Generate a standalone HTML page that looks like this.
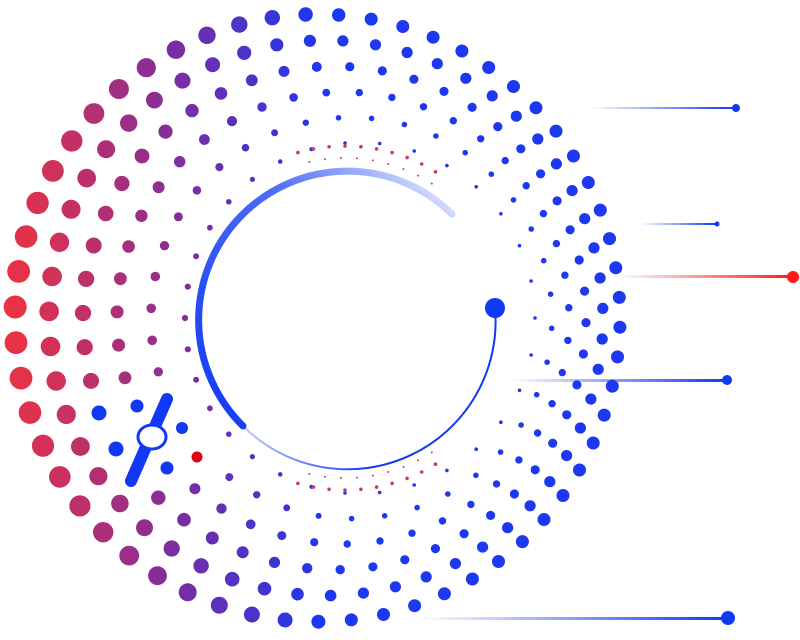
<!DOCTYPE html>
<html><head><meta charset="utf-8"><style>
html,body{margin:0;padding:0;background:#fff;width:800px;height:640px;overflow:hidden}
svg{display:block}
</style></head><body>
<svg id="s" width="800" height="640" viewBox="0 0 800 640" xmlns="http://www.w3.org/2000/svg">
<defs>
<linearGradient id="gA" x1="0" y1="1" x2="1" y2="0"><stop offset="0" stop-color="#1038f5"/><stop offset="0.6" stop-color="#4a6cf7"/><stop offset="1" stop-color="#1038f5" stop-opacity="0"/></linearGradient>
<linearGradient id="gB" x1="0" y1="0" x2="1" y2="0"><stop offset="0" stop-color="#1038f5" stop-opacity="0.25"/><stop offset="0.5" stop-color="#1038f5"/><stop offset="1" stop-color="#1038f5"/></linearGradient>
<linearGradient id="lb" x1="0" y1="0" x2="1" y2="0"><stop offset="0" stop-color="#1038f5" stop-opacity="0"/><stop offset="1" stop-color="#1038f5"/></linearGradient>
<linearGradient id="lr" x1="0" y1="0" x2="1" y2="0"><stop offset="0" stop-color="#ff2020" stop-opacity="0"/><stop offset="1" stop-color="#ff1a1a"/></linearGradient>
</defs>
<g id="dots"></g>
<path d="M243 426 A148 148 0 1 1 452 214" fill="none" stroke="url(#gA)" stroke-width="7" stroke-linecap="round"/>
<path d="M243 426 A148 148 0 0 0 495 308" fill="none" stroke="url(#gB)" stroke-width="2"/>
<circle cx="495" cy="308" r="10" fill="#1038f5"/>
<rect x="590" y="107" width="146" height="2" fill="url(#lb)"/><circle cx="736" cy="108" r="4" fill="#1038f5"/>
<rect x="640" y="223" width="77" height="2" fill="url(#lb)"/><circle cx="717" cy="224" r="2.5" fill="#1038f5"/>
<rect x="615" y="275" width="178" height="3" fill="url(#lr)"/><circle cx="793" cy="277" r="6" fill="#ff1a1a"/>
<rect x="510" y="379" width="217" height="3" fill="url(#lb)"/><circle cx="727" cy="380" r="5" fill="#1038f5"/>
<rect x="420" y="617" width="308" height="3" fill="url(#lb)"/><circle cx="728" cy="618" r="7" fill="#1038f5"/>
<line x1="131" y1="481" x2="167" y2="399" stroke="#1038f5" stroke-width="12" stroke-linecap="round"/>
<ellipse cx="152" cy="437" rx="14" ry="12" fill="#fff" stroke="#1038f5" stroke-width="3"/>
<circle cx="99" cy="413" r="7.5" fill="#1038f5"/>
<circle cx="137" cy="406" r="6.5" fill="#1038f5"/>
<circle cx="116" cy="449" r="7.5" fill="#1038f5"/>
<circle cx="182" cy="428" r="6" fill="#1038f5"/>
<circle cx="167" cy="468" r="6.5" fill="#1038f5"/>
<circle cx="197" cy="457" r="5.5" fill="#e00010"/>
</svg>
<script>
(function(){
var g=document.getElementById('dots'),cx=345,cy=318,h='';
function mix(a,b,t){return a.map(function(v,i){return Math.round(v+(b[i]-v)*t)})}
var R=[232,50,70],P=[125,45,160],B=[30,55,240];
for(var k=0;k<6;k++){
  var base=175+k*28, n=Math.round(2*Math.PI*base/34);
  for(var i=0;i<n;i++){
    var th=i/n*2*Math.PI+k*0.05, c=Math.cos(th), s=Math.sin(th);
    var sp=25.5-8.5*c, r=175+15*c+k*sp;
    var x=cx+r*c, y=cy+r*s;
    if(x>795||y<-5||y>645) continue;
    if(Math.hypot(x-150,y-437)<60) continue;
    var rad=(1.8+0.95*k)*(1+0.75*Math.max(0,-c));
    var w=Math.max(0,Math.min(1,(-c-0.1)/0.9))*(0.55+0.09*k);
    w=Math.min(1,w);
    var col=w>0.5?mix(P,R,(w-0.5)*2):mix(B,P,w*2);
    h+='<circle cx="'+x.toFixed(1)+'" cy="'+y.toFixed(1)+'" r="'+rad.toFixed(1)+'" fill="rgb('+col.join(',')+')"/>';
  }
}
for(var j=0;j<2;j++){
  var rr=160+j*12,m=Math.round(2*Math.PI*rr/16);
  for(var i=0;i<m;i++){
    var th=i/m*2*Math.PI, c=Math.cos(th), s=Math.sin(th);
    if(c<-0.3||c>0.6) continue;
    h+='<circle cx="'+(cx+rr*c).toFixed(1)+'" cy="'+(cy+rr*s).toFixed(1)+'" r="'+(1+j*0.8)+'" fill="#c83a6a"/>';
  }
}
g.innerHTML=h;
})();
</script>
</body></html>
